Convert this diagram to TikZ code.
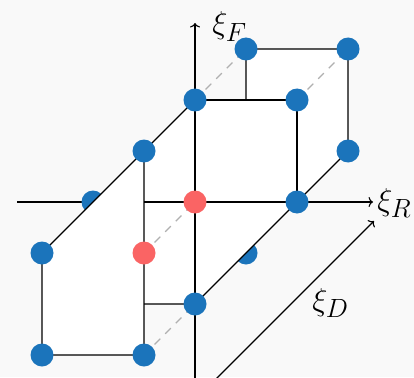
\documentclass[tikz,border=0pt]{standalone}
\usetikzlibrary{arrows.meta}
\definecolor{bgcol}{HTML}{F9F9F9}
\definecolor{dotblue}{HTML}{1B74BB}
\definecolor{dotred}{HTML}{FA6464}
\definecolor{hiddengray}{HTML}{B0B0B0}
\begin{document}
\begin{tikzpicture}[x=1pt,y=-1pt,
  axisline/.style={line width=1.1pt, -{To[length=4.5pt,width=10pt]}},
  plainline/.style={line width=1.1pt},
  edgeline/.style={line width=1.1pt, line join=miter},
  hiddenline/.style={line width=1.1pt, draw=hiddengray, dash pattern=on 8pt off 7pt},
  bdot/.style={circle, fill=dotblue, minimum size=23pt, inner sep=0pt},
  rdot/.style={circle, fill=dotred, minimum size=23pt, inner sep=0pt},
  lab/.style={font=\Huge, scale=1.27, inner sep=0pt, anchor=base west}]
\fill[bgcol] (0,0) rectangle (414,377);
\useasboundingbox (0,0) rectangle (414,377);
% lattice coordinates
\coordinate (O)    at (195,202);
\coordinate (p010) at (195,100);
\coordinate (p011) at (246,49);
\coordinate (p111) at (348,49);
\coordinate (p110) at (297,100);
\coordinate (p101) at (348,151);
\coordinate (p100) at (297,202);
\coordinate (p10m) at (246,253);
\coordinate (p0m0) at (195,304);
\coordinate (p01m) at (144,151);
\coordinate (pm00) at (93,202);
\coordinate (pm0m) at (42,253);
\coordinate (pmmm) at (42,355);
\coordinate (p0mm) at (144,355);
\coordinate (p00m) at (144,253);
\coordinate (q1)   at (246,100);
\coordinate (q2)   at (144,304);
\coordinate (q3)   at (144,202);
% axes ends
\coordinate (Fbot) at (195,385);
\coordinate (Ftop) at (195,23);
\coordinate (Rlft) at (17,202);
\coordinate (Rrgt) at (373,202);
\coordinate (Dbot) at (210,385);
\coordinate (Dtop) at (374,221);
% axes
\draw[axisline] (Fbot) -- (Ftop);
\draw[axisline] (Rlft) -- (Rrgt);
\draw[axisline] (Dbot) -- (Dtop);
\node[lab] (lF) at (212,34) {$\xi_F$};
\node[lab] (lR) at (377,210) {$\xi_R$};
\node[lab] (lD) at (312,310) {$\xi_D$};
% hidden dots
\node[bdot] (dm00) at (pm00) {};
\node[bdot] (d10m) at (p10m) {};
% white faces
\fill[white] (p011) -- (p111) -- (p101) -- (p0m0) -- (q2) -- (p0mm) -- (pmmm) -- (pm0m) -- (p010) -- (q1) -- cycle;
% visible axis parts
\draw[plainline] (p010) -- (p0m0);
\draw[plainline] (q3) -- (p100);
% edges
\draw[edgeline] (q1) -- (p011) -- (p111) -- (p101) -- (p0m0) -- (q2);
\draw[edgeline] (p010) -- (p110) -- (p100);
\draw[edgeline] (p01m) -- (p0mm) -- (pmmm) -- (pm0m) -- (p010);
% hidden edges
\draw[hiddenline] (p010) -- (p011);
\draw[hiddenline] (p110) -- (p111);
\draw[hiddenline] (p00m) -- (O);
\draw[hiddenline] (p0mm) -- (p0m0);
% visible dots
\node[bdot] (d010) at (p010) {};
\node[bdot] (d011) at (p011) {};
\node[bdot] (d111) at (p111) {};
\node[bdot] (d110) at (p110) {};
\node[bdot] (d101) at (p101) {};
\node[bdot] (d100) at (p100) {};
\node[bdot] (d0m0) at (p0m0) {};
\node[bdot] (d01m) at (p01m) {};
\node[bdot] (dm0m) at (pm0m) {};
\node[bdot] (dmmm) at (pmmm) {};
\node[bdot] (d0mm) at (p0mm) {};
\node[rdot] (dO)   at (O) {};
\node[rdot] (d00m) at (p00m) {};
\end{tikzpicture}
\end{document}
